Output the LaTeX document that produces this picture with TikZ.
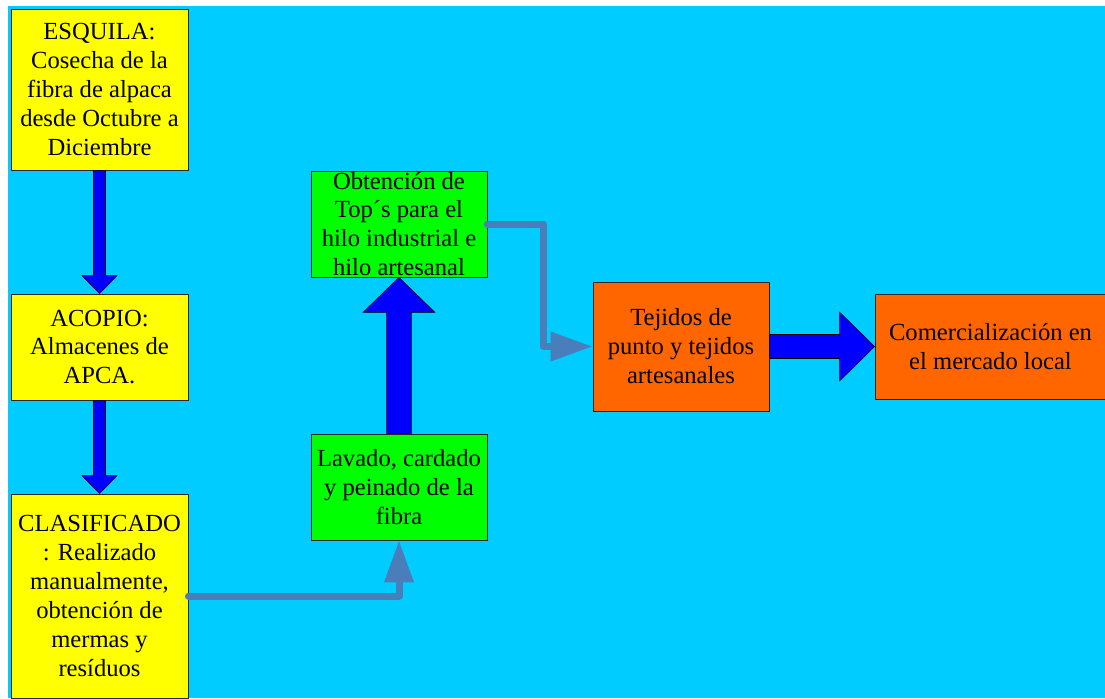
\documentclass[tikz,border=0pt]{standalone}
\usepackage{fontspec}
\setmainfont{Liberation Serif}
\usepackage{xcolor}
\usepackage{tikz}
\usetikzlibrary{calc,arrows.meta}

\definecolor{fondo}{HTML}{00CCFF}
\definecolor{amarillo}{HTML}{FFFF00}
\definecolor{verde}{HTML}{00FF00}
\definecolor{naranja}{HTML}{FF6600}
\definecolor{azul}{HTML}{0000FF}
\definecolor{acero}{HTML}{4A7EBB}

\tikzset{
  box/.style={draw=black!85, line width=0.6pt, inner sep=0pt, align=center,
    font=\fontsize{17.5}{20.6}\selectfont},
  boxtext/.style={inner sep=0pt, align=center, font=\fontsize{17.5}{20.6}\selectfont},
  blockarrow/.style={draw=black, line width=0.4pt, fill=azul, line join=miter},
  flowline/.style={draw=acero, line width=0.175cm, line cap=round, line join=round,
    -{Triangle[length=1.05cm,width=0.7cm]}}
}

\begin{document}
\begin{tikzpicture}
\useasboundingbox (0,0) rectangle (27.625,-17.45);
\fill[fondo] (0.2,-0.15) rectangle (27.625,-17.45);

\node[box, fill=amarillo, minimum width=4.425cm, minimum height=4.025cm] (esquila) at (2.4875,-2.2375)
  {ESQUILA:\\Cosecha de la\\fibra de alpaca\\desde Octubre a\\Diciembre};
\node[box, fill=amarillo, minimum width=4.425cm, minimum height=2.65cm] (acopio) at (2.4875,-8.675)
  {ACOPIO:\\Almacenes de\\APCA.};
\node[box, fill=amarillo, minimum width=4.425cm, minimum height=5.1cm] (clasif) at (2.4875,-14.9)
  {CLASIFICADO\\: Realizado\\manualmente,\\obtención de\\mermas y\\resíduos};

\node[box, fill=verde, minimum width=4.4cm, minimum height=2.65cm] (lavado) at (9.975,-12.175)
  {Lavado, cardado\\y peinado de la\\fibra};
\node[box, fill=verde, minimum width=4.4cm, minimum height=2.65cm] (tops) at (9.975,-5.6) {};
\node[boxtext] (topstext) at (tops.center)
  {Obtención de\\Top´s para el\\hilo industrial e\\hilo artesanal};

\node[box, fill=naranja, minimum width=4.4cm, minimum height=3.225cm] (tejidos) at (17.025,-8.6625)
  {Tejidos de\\punto y tejidos\\artesanales};
\node[box, fill=naranja, minimum width=5.775cm, minimum height=2.625cm] (mercado) at (24.7625,-8.6625)
  {Comercialización en\\el mercado local};

\draw[blockarrow] ($(esquila.south)+(-0.15,0)$) -- ($(acopio.north)+(-0.15,0.45)$)
  -- ($(acopio.north)+(-0.44,0.45)$) -- (acopio.north) -- ($(acopio.north)+(0.44,0.45)$)
  -- ($(acopio.north)+(0.15,0.45)$) -- ($(esquila.south)+(0.15,0)$) -- cycle;
\draw[blockarrow] ($(acopio.south)+(-0.15,0)$) -- ($(clasif.north)+(-0.15,0.45)$)
  -- ($(clasif.north)+(-0.44,0.45)$) -- (clasif.north) -- ($(clasif.north)+(0.44,0.45)$)
  -- ($(clasif.north)+(0.15,0.45)$) -- ($(acopio.south)+(0.15,0)$) -- cycle;
\draw[blockarrow] ($(lavado.north)+(-0.31,0)$) -- ($(tops.south)+(-0.31,-0.875)$)
  -- ($(tops.south)+(-0.9,-0.875)$) -- (tops.south) -- ($(tops.south)+(0.9,-0.875)$)
  -- ($(tops.south)+(0.31,-0.875)$) -- ($(lavado.north)+(0.31,0)$) -- cycle;
\draw[blockarrow] ($(tejidos.east)+(0,0.3)$) -- ($(mercado.west)+(-0.875,0.3)$)
  -- ($(mercado.west)+(-0.875,0.86)$) -- (mercado.west) -- ($(mercado.west)+(-0.875,-0.86)$)
  -- ($(mercado.west)+(-0.875,-0.3)$) -- ($(tejidos.east)+(0,-0.3)$) -- cycle;

\draw[flowline] (clasif.east) -| (lavado.south);
\draw[flowline] (tops.east) -- ++(1.4,0) |- (tejidos.west);
\end{tikzpicture}
\end{document}
